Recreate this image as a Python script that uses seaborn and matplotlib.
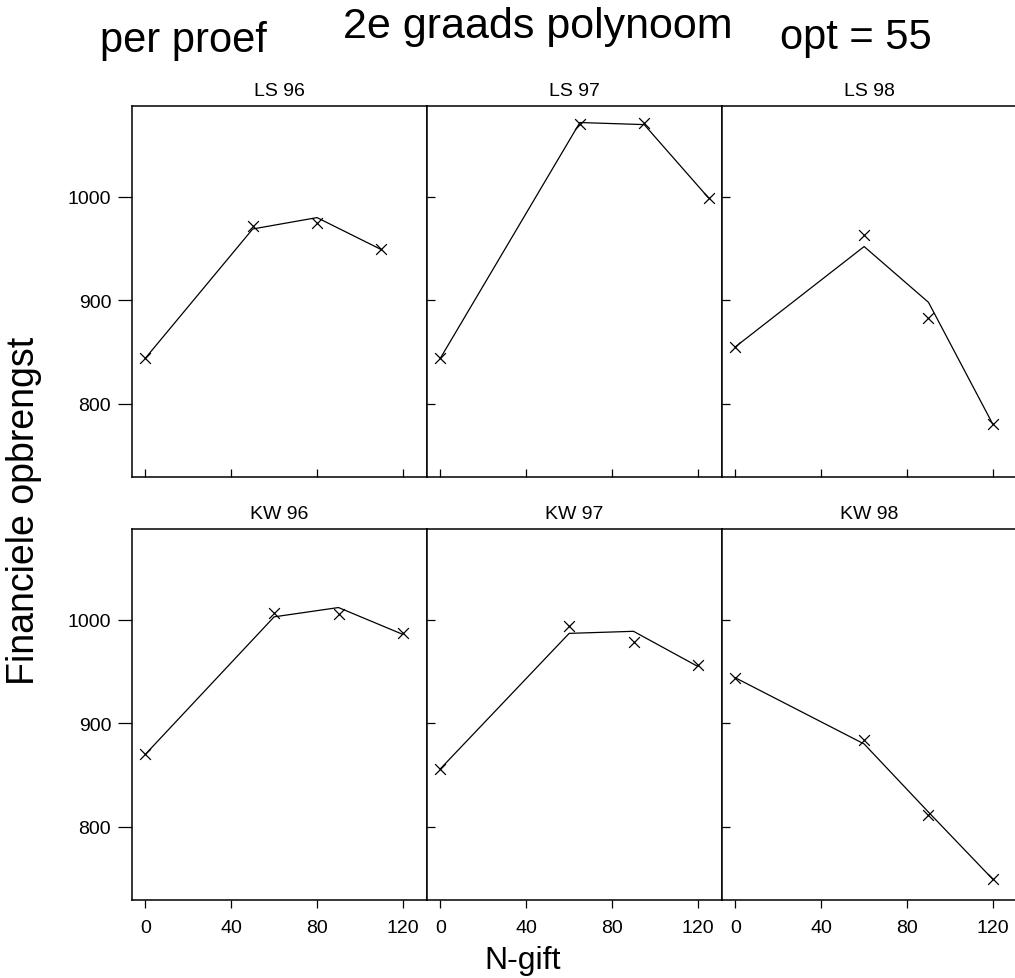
import matplotlib
matplotlib.use("Agg")
import matplotlib.pyplot as plt
import pandas as pd
import seaborn as sns

# Trials (proeven), shown in a 2 x 3 trellis
proeven = ["LS 96", "LS 97", "LS 98", "KW 96", "KW 97", "KW 98"]

# Nitrogen application per trial (kg N/ha)
n_gift = [
    [0, 50, 80, 110],
    [0, 65, 95, 125],
    [0, 60, 90, 120],
    [0, 60, 90, 120],
    [0, 60, 90, 120],
    [0, 60, 90, 120],
]

# Observed financial yield per trial
opbrengst = [
    [844, 972, 975, 950],
    [844, 1071, 1072, 999],
    [855, 963, 883, 780],
    [870, 1007, 1006, 987],
    [856, 994, 979, 956],
    [944, 884, 811, 749],
]

# Fitted values of the second-degree polynomial per trial
fit = [
    [844, 969, 980, 949],
    [844, 1072, 1070, 999],
    [855, 952, 898, 780],
    [870, 1003, 1012, 986],
    [856, 987, 989, 955],
    [944, 880, 814, 749],
]

x_ticks = [0, 40, 80, 120]
y_ticks = [800, 900, 1000]

rows = []
for name, xs, ys, fs in zip(proeven, n_gift, opbrengst, fit):
    for xv, yv, fv in zip(xs, ys, fs):
        rows.append({"proef": name, "N": xv, "obs": yv, "fit": fv})
df = pd.DataFrame(rows)

sns.set_theme(style="ticks")
plt.rcParams["font.family"] = ["Liberation Sans", "DejaVu Sans"]
plt.rcParams["axes.edgecolor"] = "black"
plt.rcParams["axes.linewidth"] = 1.1

g = sns.FacetGrid(df, col="proef", col_wrap=3, col_order=proeven,
                  sharex=True, sharey=True, despine=False,
                  height=3.7, aspect=0.8)
g.map_dataframe(sns.lineplot, x="N", y="fit", color="black",
                linewidth=0.9, estimator=None, sort=True)
g.map_dataframe(sns.scatterplot, x="N", y="obs", marker="x",
                color="black", s=60, linewidth=0.9)

fig = g.figure
W, H = 1015, 979
fig.set_size_inches(W / 100, H / 100)
fig.subplots_adjust(left=132 / W, right=1017 / W,
                    top=1 - 107 / H, bottom=1 - 901 / H,
                    wspace=0, hspace=52 / 371)

g.set_axis_labels("", "")
for i, ax in enumerate(g.axes.flat):
    row, col = divmod(i, 3)
    ax.set_title(proeven[i], fontsize=14, pad=8, color="black")
    ax.set_xlim(-6.25, 131.25)
    ax.set_ylim(729, 1088)
    ax.set_xticks(x_ticks)
    ax.set_yticks(y_ticks)
    for sp in ax.spines.values():
        sp.set_color("black")
        sp.set_linewidth(1.1)
    if row == 0:
        ax.tick_params(axis="x", direction="in", length=6, width=0.9,
                       labelbottom=False, color="black")
    else:
        ax.tick_params(axis="x", direction="out", length=6, width=0.9,
                       pad=8, labelbottom=True, labelsize=14,
                       color="black", labelcolor="black")
    if col == 0:
        ax.tick_params(axis="y", direction="out", length=10, width=0.9,
                       pad=5, labelleft=True, labelsize=14,
                       color="black", labelcolor="black")
    else:
        ax.tick_params(axis="y", direction="in", length=6, width=0.9,
                       labelleft=False, color="black")

fig.text(100 / W, 1 - 52 / H, "per proef", fontsize=30,
         ha="left", va="baseline", color="black")
fig.text(343 / W, 1 - 38 / H, "2e graads polynoom", fontsize=31,
         ha="left", va="baseline", color="black")
fig.text(780 / W, 1 - 49 / H, "opt = 55", fontsize=30,
         ha="left", va="baseline", color="black")

fig.text(24 / W, 1 - 511 / H, "Financiele opbrengst", fontsize=27,
         rotation=90, ha="center", va="center", color="black")
fig.text(523 / W, 1 - 961 / H, "N-gift", fontsize=23,
         ha="center", va="center", color="black")

fig.savefig("out.png", dpi=100, facecolor="white")
